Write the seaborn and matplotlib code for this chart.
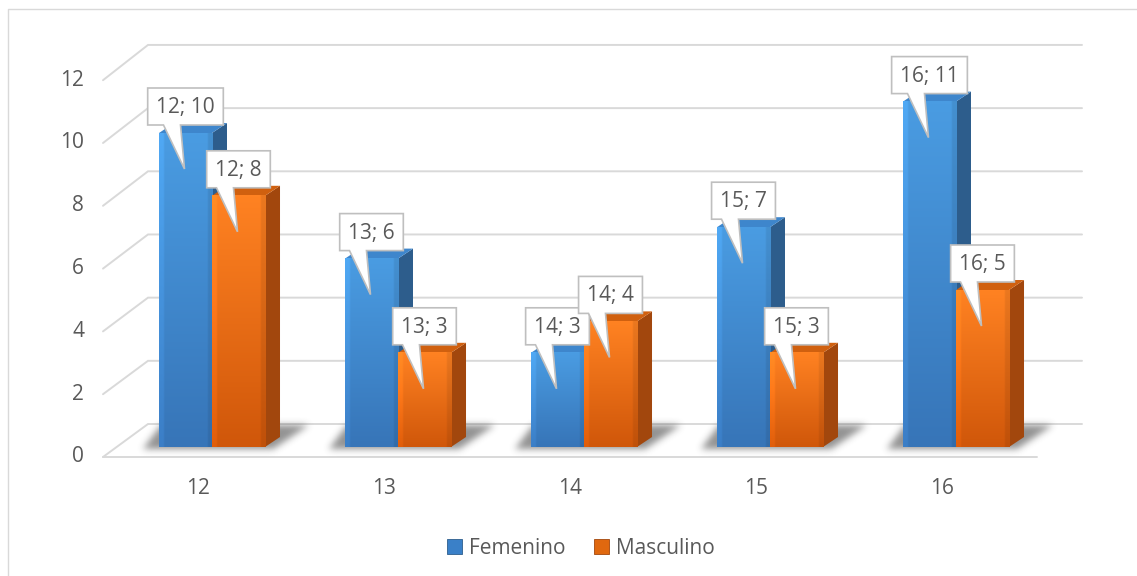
import numpy as np
import pandas as pd
import matplotlib
matplotlib.use("Agg")
import matplotlib.pyplot as plt
import seaborn as sns
from matplotlib.patches import Polygon, Patch
from matplotlib.path import Path

# ---- data -------------------------------------------------------------
edades = ["12", "13", "14", "15", "16"]
femenino = [10, 6, 3, 7, 11]
masculino = [8, 3, 4, 3, 5]
series = ["Femenino", "Masculino"]
yticks = [0, 2, 4, 6, 8, 10, 12]

df = pd.DataFrame({
    "Edad": edades * 2,
    "Sexo": [series[0]] * len(edades) + [series[1]] * len(edades),
    "Cantidad": femenino + masculino,
})

# ---- style ------------------------------------------------------------
sns.set_theme(style="white")
plt.rcParams["font.family"] = ["Open Sans", "DejaVu Sans"]

TXT = "#595959"
GRID = "#D9D9D9"
FS = 15

STYLE = {
    "Femenino": dict(top="#4A9CE2", bot="#3775B8", side="#2D5D8C", lid="#3E86CC", flat="#3A80C8"),
    "Masculino": dict(top="#FF8222", bot="#D0570A", side="#A2470D", lid="#D0600F", flat="#E0680F"),
}

W, H, DPI = 1137, 576, 100
fig = plt.figure(figsize=(W / DPI, H / DPI), dpi=DPI)
ax = fig.add_axes([0, 0, 1, 1])
ax.set_axis_off()

# pixel layout of the bar plane: category step and value step
X0, SX = 212.0, 186.0
Y0, SY = 447.0, 31.4
FRONT_DY, BACK_DY = 10.0, -23.0          # depth planes relative to the bars
WALL_FRONT_X, WALL_BACK_X, WALL_END_X, FLOOR_END_X = 103.0, 148.0, 1082.0, 1037.0
SIDE_DX, SIDE_DY = 15.0, 10.0            # 3-D depth of each column


def to_data(px, py):
    return (px - X0) / SX, (Y0 - py) / SY


def to_px(x, y):
    return X0 + SX * x, Y0 - SY * y


def hex_rgb(c):
    c = c.lstrip("#")
    return np.array([int(c[i:i + 2], 16) / 255 for i in (0, 2, 4)])


# ---- chart frame ------------------------------------------------------
fx = [to_data(8, H + 5), to_data(8, 9), to_data(W + 5, 9)]
ax.plot([p[0] for p in fx], [p[1] for p in fx], color=GRID, lw=1.0, zorder=0.5)

# ---- walls: gridlines and floor --------------------------------------
for v in yticks:
    front = to_data(WALL_FRONT_X, Y0 + FRONT_DY - SY * v)
    back = to_data(WALL_BACK_X, Y0 + BACK_DY - SY * v * 1.006)
    end = to_data(WALL_END_X, Y0 + BACK_DY - SY * v * 1.006)
    ax.plot([front[0], back[0], end[0]], [front[1], back[1], end[1]],
            color=GRID, lw=1.4, zorder=1, solid_joinstyle="miter")
    ax.text(*to_data(84, Y0 + FRONT_DY - SY * v), str(v), ha="right", va="center",
            fontsize=FS, color=TXT)
f0 = to_data(WALL_FRONT_X, Y0 + FRONT_DY)
f1 = to_data(FLOOR_END_X, Y0 + FRONT_DY)
ax.plot([f0[0], f1[0]], [f0[1], f1[1]], color=GRID, lw=1.4, zorder=1)

# ---- columns ------------------------------------------------------------
sns.barplot(data=df, x="Edad", y="Cantidad", hue="Sexo", hue_order=series,
            palette=[STYLE[s]["flat"] for s in series], width=0.57,
            saturation=1, linewidth=0, ax=ax, legend=False, errorbar=None)

dxd = SIDE_DX / SX
dyd = SIDE_DY / SY

bars = []   # (series, category index, rect)
for cont, name in zip(ax.containers, series):
    for i, rect in enumerate(cont.patches):
        bars.append((name, i, rect))

# soft floor shadows under each pair of columns
k_sig = 3.5
kx = np.arange(-10, 11)
kern = np.exp(-kx ** 2 / (2 * k_sig ** 2))
kern /= kern.sum()
for i in range(len(edades)):
    rects = [r for (_, j, r) in bars if j == i]
    left = min(r.get_x() for r in rects)
    right = max(r.get_x() + r.get_width() for r in rects)
    pl, _ = to_px(left, 0)
    pr, _ = to_px(right, 0)
    gx0, gx1, gy0, gy1 = int(pl - 40), int(pr + 70), 405, 462
    xs, ys = np.meshgrid(np.arange(gx0, gx1) + 0.5, np.arange(gy0, gy1) + 0.5)
    poly = Path([(pl - 16, Y0 + 2), (pr + 8, Y0 + 2), (pr + 44, Y0 - 22), (pl + 2, Y0 - 22)])
    mask = poly.contains_points(np.c_[xs.ravel(), ys.ravel()]).reshape(xs.shape).astype(float)
    mask = np.apply_along_axis(lambda m: np.convolve(m, kern, mode="same"), 1, mask)
    mask = np.apply_along_axis(lambda m: np.convolve(m, kern, mode="same"), 0, mask)
    img = np.zeros(mask.shape + (4,))
    img[..., :3] = 0.22
    img[..., 3] = 0.55 * mask
    l, t = to_data(gx0, gy0)
    r_, b = to_data(gx1, gy1)
    ax.imshow(img, extent=(l, r_, b, t), aspect="auto", zorder=1.5,
              interpolation="bilinear", origin="upper")

for name, i, rect in bars:
    st = STYLE[name]
    x0, w, h = rect.get_x(), rect.get_width(), rect.get_height()
    x1 = x0 + w
    rect.set_zorder(3)
    # side face and lid
    ax.add_patch(Polygon([(x1, 0), (x1 + dxd, dyd), (x1 + dxd, h + dyd), (x1, h)],
                         closed=True, fc=st["side"], ec="none", zorder=2.5))
    ax.add_patch(Polygon([(x0, h), (x0 + dxd, h + dyd), (x1 + dxd, h + dyd), (x1, h)],
                         closed=True, fc=st["lid"], ec="none", zorder=2.5))
    # shaded front face
    ny, nx = 64, 32
    tv = np.linspace(0, 1, ny)[:, None]
    col = (1 - tv) * hex_rgb(st["top"]) + tv * hex_rgb(st["bot"])
    col = np.repeat(col[:, None, :], nx, axis=1)
    u = np.linspace(0, 1, nx)
    shade = np.ones(nx)
    shade[u < 0.07] = 1.08
    shade[u > 0.93] = 0.92
    col = np.clip(col * shade[None, :, None], 0, 1)
    ax.imshow(col, extent=(x0, x1, 0, h), aspect="auto", zorder=3.05,
              interpolation="bilinear", origin="upper")

# ---- callout labels ----------------------------------------------------
fig.canvas.draw()
renderer = fig.canvas.get_renderer()
for name, i, rect in bars:
    h = rect.get_height()
    cx_d = rect.get_x() + rect.get_width() / 2
    cx, top = to_px(cx_d, h)
    label = f"{edades[i]}; {h:g}"
    bottom = top - 8
    bh = 37
    t = ax.text(*to_data(cx, bottom - bh / 2 + 1), label, ha="center", va="center",
                fontsize=FS, color=TXT, zorder=11)
    tw = t.get_window_extent(renderer).width
    bw = tw + 17
    L, R, T = cx - bw / 2, cx + bw / 2, bottom - bh
    pts_px = [(L, T), (R, T), (R, bottom), (cx - 5, bottom), (cx - 1, top + 36),
              (cx - 22, bottom), (L, bottom)]
    ax.add_patch(Polygon([to_data(*p) for p in pts_px], closed=True, fc="white",
                         ec="#BFBFBF", lw=1.2, zorder=10, joinstyle="miter"))

# ---- category labels ----------------------------------------------------
for i, e in enumerate(edades):
    px, _ = to_px(i, 0)
    ax.text(*to_data(px - 14, 488), e, ha="center", va="center", fontsize=FS, color=TXT)

# ---- legend -------------------------------------------------------------
handles = [Patch(facecolor=STYLE[s]["flat"], edgecolor=STYLE[s]["side"], linewidth=0.6) for s in series]
fig.legend(handles, series, loc="center", bbox_to_anchor=(581 / W, 1 - 548 / H),
           ncol=2, frameon=False, fontsize=FS, labelcolor=TXT,
           handlelength=0.7, handleheight=0.7, handletextpad=0.35, columnspacing=1.4)

ax.set_xlim(to_data(0, 0)[0], to_data(W, 0)[0])
ax.set_ylim(to_data(0, H)[1], to_data(0, 0)[1])

fig.savefig("out.png", dpi=DPI, facecolor="white")
